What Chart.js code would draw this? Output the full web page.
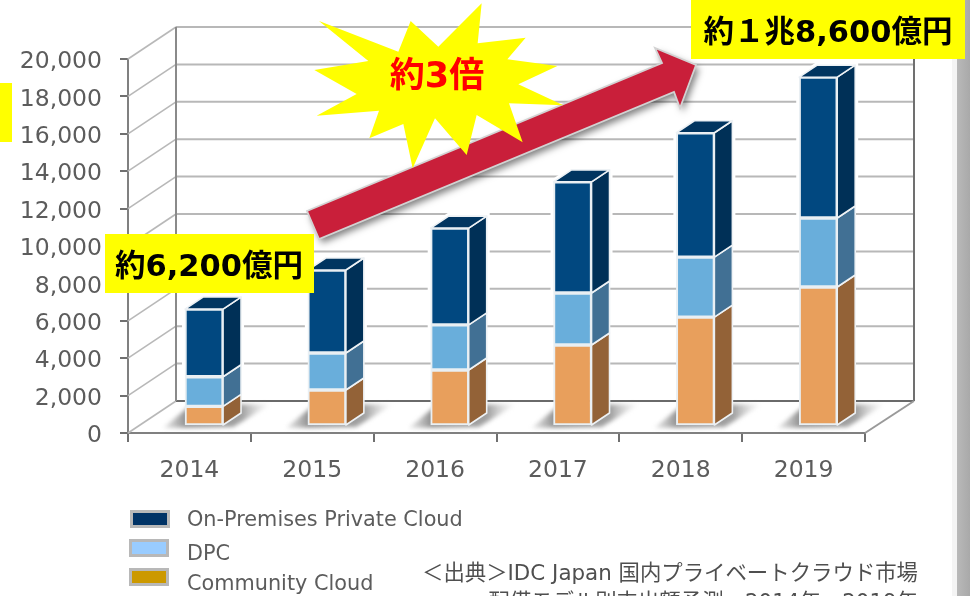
<!DOCTYPE html>
<html lang="ja">
<head>
<meta charset="utf-8">
<script src="https://cdn.jsdelivr.net/npm/chart.js@4"></script>
<style>
html,body{margin:0;padding:0;background:#fff;overflow:hidden}
canvas{display:block;filter:blur(0.45px)}
</style>
</head>
<body>
<canvas id="c" width="970" height="596"></canvas>
<script>
const categories = ['2014','2015','2016','2017','2018','2019'];
const communityCloud = [1000,1870,2940,4280,5770,7380];
const dpc = [1580,1980,2410,2780,3210,3690];
const onPremises = [3620,4440,5180,5940,6650,7530];
const seriesNames = ['Community Cloud','DPC','On-Premises Private Cloud'];
const faceColors = ['#e89f5c','#69aedb','#014880'];
const sideColors = ['#936237','#417094','#003057'];
const topColor = '#013560';
const legendColors = ['#cc9900','#99ccff','#003366'];
const yTickStep = 2000;
const yTickMax = 20000;
const callouts = ['約6,200億円','約１兆8,600億円','約3倍'];
const sourceLines = ['＜出典＞IDC Japan 国内プライベートクラウド市場','配備モデル別支出額予測、2014年～2019年'];

const GREY = '#5c5c5c';
const sans = '"DejaVu Sans","Noto Sans CJK JP",sans-serif';
const jpBold = '"DejaVu Sans","Noto Sans CJK JP",sans-serif';

function poly(ctx, pts){
  ctx.beginPath();
  pts.forEach((p,i)=> i?ctx.lineTo(p[0],p[1]):ctx.moveTo(p[0],p[1]));
  ctx.closePath();
}

const scene = {
  id:'scene',
  beforeDraw(chart){
    const {ctx} = chart;
    ctx.save();
    ctx.fillStyle='#fff'; ctx.fillRect(0,0,970,596);
    const g = ctx.createLinearGradient(957,0,970,0);
    g.addColorStop(0,'#b9b9b9'); g.addColorStop(1,'#a9a9a9');
    ctx.fillStyle=g; ctx.fillRect(957,0,13,596);
    ctx.fillStyle='#f4f4f4'; ctx.fillRect(952,0,5,596);
    ctx.restore();
  },
  beforeDatasetsDraw(chart){
    const {ctx,chartArea:a,scales} = chart;
    const yA = scales.yAxis;
    const dx=48, dy=-32, wallRight=a.right+49;
    ctx.save();
    yA.ticks.forEach(t=>{
      const py=yA.getPixelForValue(t.value);
      ctx.strokeStyle='#b8b8b8'; ctx.lineWidth=1.6;
      ctx.beginPath(); ctx.moveTo(a.left,py); ctx.lineTo(a.left+dx,py+dy); ctx.stroke();
      ctx.strokeStyle = t.value===0 ? '#6a6a6a' : '#b8b8b8';
      ctx.lineWidth = 2;
      ctx.beginPath(); ctx.moveTo(a.left+dx,py+dy); ctx.lineTo(wallRight,py+dy); ctx.stroke();
    });
    const y0=yA.getPixelForValue(0), yTop=yA.getPixelForValue(yTickMax);
    ctx.strokeStyle='#8a8a8a'; ctx.lineWidth=2;
    ctx.beginPath(); ctx.moveTo(a.left+dx,y0+dy); ctx.lineTo(a.left+dx,yTop+dy); ctx.stroke();
    ctx.strokeStyle='#707070';
    ctx.beginPath(); ctx.moveTo(wallRight,y0+dy); ctx.lineTo(wallRight,yTop+dy); ctx.stroke();
    ctx.strokeStyle='#9a9a9a';
    ctx.beginPath(); ctx.moveTo(a.right,y0); ctx.lineTo(wallRight,y0+dy); ctx.stroke();

    const metas=[0,1,2].map(i=>chart.getDatasetMeta(i));
    const sx=18, sy=-12;
    // white halo that interrupts the gridlines around each bar
    metas[2].data.forEach(b=>{
      const R=b.x+b.width/2, L=b.x-b.width/2;
      ctx.fillStyle='#fff'; ctx.strokeStyle='#fff'; ctx.lineWidth=6;
      poly(ctx,[[L,b.y],[L+sx,b.y+sy],[R+sx,b.y+sy],[R+sx,b.base+sy],[R,b.base],[L,b.base]]);
      ctx.fill(); ctx.stroke();
    });
    metas[0].data.forEach(b=>{
      const L=b.x-b.width/2, base=b.base;
      const grad=ctx.createLinearGradient(L-22,0,L+88,0);
      grad.addColorStop(0,'rgba(150,150,150,0.2)');
      grad.addColorStop(0.2,'rgba(120,120,120,0.8)');
      grad.addColorStop(0.72,'rgba(130,130,130,0.75)');
      grad.addColorStop(1,'rgba(210,210,210,0)');
      ctx.save();
      ctx.filter='blur(2px)';
      ctx.fillStyle=grad;
      poly(ctx,[[L-22,base+3],[L+6,base-20],[L+86,base-21],[L+48,base+2]]);
      ctx.fill();
      ctx.restore();
    });
    metas.forEach((m,i)=>{
      m.data.forEach(b=>{
        const R=b.x+b.width/2, L=b.x-b.width/2;
        ctx.fillStyle=sideColors[i];
        ctx.strokeStyle='#eef2f5'; ctx.lineWidth=1.6; ctx.lineJoin='round';
        poly(ctx,[[R,b.y],[R+sx,b.y+sy],[R+sx,b.base+sy],[R,b.base]]);
        ctx.fill(); ctx.stroke();
        if(i===metas.length-1){
          ctx.fillStyle=topColor;
          poly(ctx,[[L,b.y],[L+sx,b.y+sy],[R+sx,b.y+sy],[R,b.y]]);
          ctx.fill(); ctx.stroke();
        }
      });
    });
    ctx.restore();
  },
  afterDraw(chart){
    const {ctx} = chart;
    ctx.save();
    const rows=[[2,130,510,521],[1,129,539,555],[0,129,568,585]];
    rows.forEach(([i,bx,by,ty])=>{
      ctx.fillStyle=legendColors[i];
      ctx.strokeStyle='#b8b8b8'; ctx.lineWidth=3;
      ctx.fillRect(bx+1.5,by+1.5,37,15);
      ctx.strokeRect(bx+1.5,by+1.5,37,15);
      ctx.fillStyle=GREY; ctx.font='20.8px '+sans;
      ctx.textAlign='left'; ctx.textBaseline='middle';
      ctx.fillText(chart.data.datasets[i].label,187,ty);
    });
    ctx.fillStyle='#4f4f4f'; ctx.font='21.4px '+sans;
    ctx.textAlign='right';
    ctx.fillText(sourceLines[0],918,574);
    ctx.fillText(sourceLines[1],918,603);

    ctx.save();
    ctx.shadowColor='rgba(0,0,0,0.5)'; ctx.shadowBlur=7; ctx.shadowOffsetX=3; ctx.shadowOffsetY=4;
    ctx.fillStyle='#c91f3a';
    const arrow=[[307,211],[662,63],[655,48],[696,65],[680,108],[674,92],[319,239]];
    poly(ctx,arrow); ctx.fill();
    ctx.restore();
    ctx.strokeStyle='#d2d2d2'; ctx.lineWidth=1.8; ctx.lineJoin='miter';
    poly(ctx,arrow); ctx.stroke();

    const star=[[57,63],[295,155],[332,63],[415,140],[545,10],[533,130],[677,113],[622,178],[772,198],[655,253],[790,316],[627,310],[668,427],[530,345],[500,465],[405,355],[338,505],[310,372],[208,415],[237,332],[50,347],[170,282],[43,210],[205,183]];
    ctx.fillStyle='#ffff00';
    poly(ctx,star.map(p=>[300+p[0]/3,p[1]/3])); ctx.fill();
    ctx.fillStyle='#f00'; ctx.font='bold 35px '+jpBold;
    ctx.textAlign='center'; ctx.textBaseline='middle';
    ctx.fillText(callouts[2],437,78);

    ctx.fillStyle='#ffff00';
    ctx.fillRect(0,83,12,59);
    ctx.fillRect(105,234,209,59);
    ctx.fillRect(691,0,274,59);
    ctx.fillStyle='#000'; ctx.font='bold 30.5px '+jpBold;
    ctx.fillText(callouts[0],209,268);
    ctx.fillText(callouts[1],828,34);
    ctx.restore();
  }
};

const xPts = v => v.map((y,i)=>({x:i,y}));

new Chart(document.getElementById('c'),{
  type:'bar',
  data:{
    labels:categories,
    datasets:[communityCloud,dpc,onPremises].map((vals,i)=>({
      label:seriesNames[i],
      data:xPts(vals),
      backgroundColor:faceColors[i],
      borderColor:'#e9eff3',
      borderWidth:2,
      borderSkipped:false,
      barThickness:38,
      xAxisID:'x',
      yAxisID:'y'
    }))
  },
  options:{
    responsive:false,
    animation:false,
    devicePixelRatio:1,
    layout:{padding:{left:0,top:59,right:105,bottom:0}},
    plugins:{legend:{display:false},tooltip:{enabled:false},title:{display:false}},
    scales:{
      x:{type:'linear',display:false,stacked:true,offset:false,bounds:'data',min:-0.619,max:5.381},
      y:{type:'linear',display:false,stacked:true,bounds:'data',min:-428,max:19572},
      xAxis:{
        type:'category',position:'bottom',labels:categories,offset:true,
        grid:{display:true,offset:true,drawOnChartArea:false,drawTicks:true,tickLength:9,color:'#707070',lineWidth:2},
        border:{display:true,color:'#808080',width:2},
        ticks:{color:GREY,font:{family:sans,size:23.5},padding:15,maxRotation:0},
        afterFit(s){s.height=163;}
      },
      yAxis:{
        type:'linear',position:'left',min:0,max:yTickMax,
        grid:{display:true,drawOnChartArea:false,drawTicks:true,tickLength:8,color:'#707070',lineWidth:2},
        border:{display:true,color:'#808080',width:2},
        ticks:{stepSize:yTickStep,autoSkip:false,color:GREY,font:{family:sans,size:23.5},padding:18,labelOffset:3,
          callback:v=>v.toLocaleString('en-US')},
        afterFit(s){s.width=128;}
      }
    }
  },
  plugins:[scene]
});
</script>
</body>
</html>
